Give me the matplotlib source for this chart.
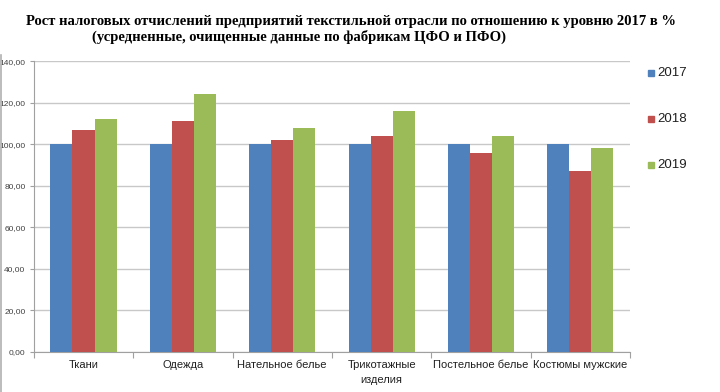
import numpy as np
import matplotlib
matplotlib.use("Agg")
import matplotlib.pyplot as plt
from matplotlib.patches import Rectangle
from matplotlib.lines import Line2D

categories = ["Ткани", "Одежда", "Нательное белье", "Трикотажные\nизделия",
              "Постельное белье", "Костюмы мужские"]
years = ["2017", "2018", "2019"]
v2017 = [100, 100, 100, 100, 100, 100]
v2018 = [107, 111, 102, 104, 96, 87]
v2019 = [112, 124, 108, 116, 104, 98]
yticks = [0, 20, 40, 60, 80, 100, 120, 140]

colors = ["#4F81BD", "#C0504D", "#9BBB59"]
sans = ["Liberation Sans Narrow", "Liberation Sans", "DejaVu Sans"]

fig = plt.figure(figsize=(7.2, 3.92), dpi=100)
ax = fig.add_axes([0.047, 0.102, 0.828, 0.742])

x = np.arange(len(categories))
w = 0.222
for i, (vals, lab, c) in enumerate(zip([v2017, v2018, v2019], years, colors)):
    ax.bar(x + (i - 1) * w, vals, width=w, color=c, label=lab, zorder=3)

ax.set_xlim(-0.5, len(categories) - 0.5)
ax.set_ylim(0, 140)
ax.set_yticks(yticks)
ax.set_yticklabels([f"{v:.2f}".replace(".", ",") for v in yticks],
                   fontsize=6, color="#404040", family=sans)
ax.grid(axis="y", color="#c8c8c8", linewidth=1, zorder=0)

ax.set_xticks(np.arange(len(categories) + 1) - 0.5)
ax.set_xticklabels([])
ax.set_xticks(x, minor=True)
ax.set_xticklabels(categories, minor=True, fontsize=8, family=sans, color="#202020",
                   linespacing=1.6)
ax.tick_params(axis="x", which="minor", length=0, pad=6)
ax.tick_params(axis="x", which="major", length=4, color="#a0a0a0")
ax.tick_params(axis="y", length=3, color="#a0a0a0", pad=3)

for s in ["top", "right"]:
    ax.spines[s].set_visible(False)
for s in ["left", "bottom"]:
    ax.spines[s].set_color("#a0a0a0")

handles, labels = ax.get_legend_handles_labels()
for k, (h, lab) in enumerate(zip(handles, labels)):
    yy = 0.814 - k * 0.117
    fig.patches.append(Rectangle((0.9, yy - 0.009), 0.009, 0.017, color=colors[k],
                                 transform=fig.transFigure, figure=fig))
    fig.text(0.913, yy, lab, fontsize=9.5, va="center", ha="left",
             family=["Liberation Sans", "DejaVu Sans"], color="#202020")

fig.text(0.036, 0.945, "Рост налоговых отчислений предприятий текстильной отрасли по отношению к уровню 2017 в %",
         fontsize=10.5, fontweight="bold", family="Liberation Serif", va="center", ha="left")
fig.text(0.128, 0.905, "(усредненные, очищенные данные по фабрикам ЦФО и ПФО)",
         fontsize=10.5, fontweight="bold", family="Liberation Serif", va="center", ha="left")

# left edge of the chart frame
fig.lines.append(Line2D([0.002, 0.002], [0.0, 0.86], color="#b0b0b0", linewidth=1.2,
                        transform=fig.transFigure, figure=fig))

fig.savefig("out.png", dpi=100, facecolor="white")
